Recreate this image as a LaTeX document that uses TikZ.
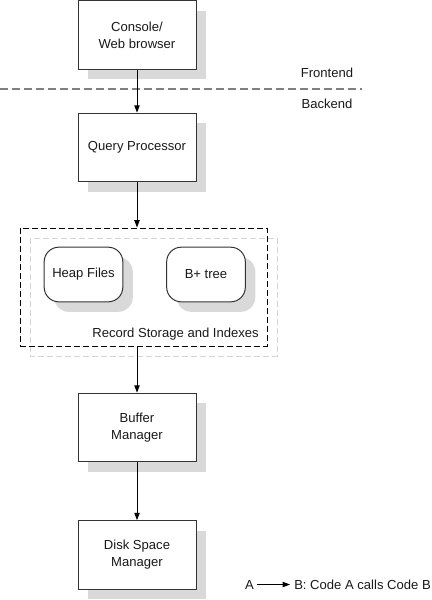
\documentclass[tikz,border=0pt]{standalone}
\usepackage{fontspec}
\setmainfont{Liberation Sans}
\usetikzlibrary{arrows.meta,shadows}
\definecolor{shadowgray}{HTML}{D9D9D9}
\definecolor{sepgray}{HTML}{808080}
\definecolor{lightdash}{HTML}{D4D4D4}
\tikzset{
  base/.style={font=\fontsize{9.8}{12.8}\selectfont, text=black!90},
  procbox/.style={base, draw=black!80, line width=0.75pt, fill=white,
    minimum width=88.5pt, minimum height=51.5pt, align=center, inner sep=0pt,
    drop shadow={shadow xshift=7.5pt, shadow yshift=-7.5pt, fill=shadowgray, opacity=1}},
  roundbox/.style={base, draw=black!80, line width=0.75pt, fill=white,
    rounded corners=11pt, minimum width=59pt, minimum height=41pt, inner sep=0pt,
    drop shadow={shadow xshift=7.5pt, shadow yshift=-7.5pt, fill=shadowgray, opacity=1}},
  callarrow/.style={draw=black, line width=0.75pt, -{Triangle[length=5.5pt,width=4pt]}},
  lbl/.style={base, inner sep=0pt},
  boxdash/.style={line width=0.75pt, dash pattern=on 4.5pt off 2.25pt},
}
\begin{document}
\begin{tikzpicture}[x=0.75pt,y=-0.75pt]
\useasboundingbox (0,0) rectangle (432,600);
% container (shadow outline first)
\draw[lightdash, boxdash] (30,238) rectangle (277,356);
\node[draw=black, boxdash, minimum width=185.25pt, minimum height=88.5pt, inner sep=0pt] (store) at (143.5,287) {};
\node[lbl, anchor=east] (storelbl) at (259,334) {Record Storage and Indexes};
% frontend/backend separator
\coordinate (sepL) at (0,89);
\coordinate (sepR) at (362,89);
\draw[sepgray, line width=1.1pt, dash pattern=on 6pt off 3pt] (sepL) -- (sepR);
\node[lbl] (front) at (327,73) {Frontend};
\node[lbl] (back) at (327,104) {Backend};
% boxes
\node[procbox] (console) at (137,35) {Console/\\Web browser};
\node[procbox] (query) at (137,147.5) {Query Processor};
\node[roundbox] (heap) at (83.5,274.5) {Heap Files};
\node[roundbox] (btree) at (206,274.5) {B+ tree};
\node[procbox] (buffer) at (137,427.5) {Buffer\\Manager};
\node[procbox] (disk) at (137,555) {Disk Space\\Manager};
% connectors
\draw[callarrow] (console) -- (query);
\draw[callarrow] (query.south) -- (store.north -| query.south);
\draw[callarrow] (store.south -| buffer.north) -- (buffer.north);
\draw[callarrow] (buffer) -- (disk);
% legend
\node[lbl] (la) at (249.5,584.5) {A};
\node[lbl, anchor=west] (lb) at (294,584.5) {B: Code A calls Code B};
\draw[callarrow, shorten <=2pt, shorten >=3pt] (la.east) -- (lb.west);
\end{tikzpicture}
\end{document}
